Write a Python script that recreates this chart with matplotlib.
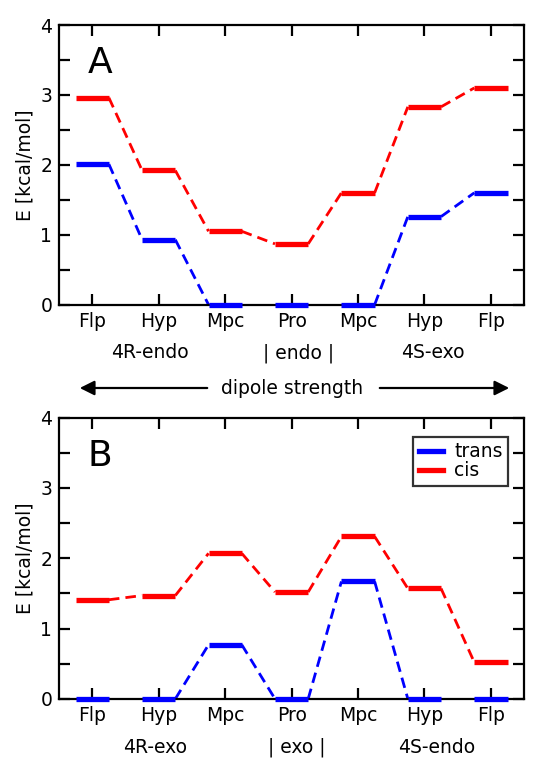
import numpy as np
import matplotlib
matplotlib.use('Agg')
import matplotlib.pyplot as plt
import matplotlib.ticker as mticker
from matplotlib.lines import Line2D
from matplotlib.patches import FancyArrowPatch

residues = ['Flp', 'Hyp', 'Mpc', 'Pro', 'Mpc', 'Hyp', 'Flp']

# panel A (endo)
trans_a = [2.01, 0.93, 0.0, 0.0, 0.0, 1.26, 1.60]
cis_a = [2.96, 1.92, 1.05, 0.87, 1.60, 2.83, 3.10]
groups_a = ['4R-endo', '| endo |', '4S-exo']
group_pos_a = [0.87, 3.1, 5.12]

# panel B (exo)
trans_b = [0.0, 0.0, 0.77, 0.0, 1.67, 0.0, 0.0]
cis_b = [1.41, 1.47, 2.07, 1.52, 2.31, 1.57, 0.52]
groups_b = ['4R-exo', '| exo |', '4S-endo']
group_pos_b = [0.94, 3.08, 5.19]

RED = '#ff0000'
BLUE = '#0000ff'
HALF = 0.25
FS = 13.5


def draw_levels(ax, values, color):
    x = np.arange(len(values))
    for xi, yi in zip(x, values):
        ax.plot([xi - HALF, xi + HALF], [yi, yi], color=color, lw=3.8,
                solid_capstyle='butt', zorder=3, clip_on=False)
    for i in range(len(values) - 1):
        ax.plot([x[i] + HALF, x[i + 1] - HALF], [values[i], values[i + 1]],
                color=color, lw=2.0, ls=(0, (3.8, 2.2)), zorder=2)


def style_axes(ax, letter, groups, group_pos):
    ax.set_xlim(-0.5, 6.5)
    ax.set_ylim(0, 4)
    ax.set_xticks(range(len(residues)))
    ax.set_xticklabels(residues, fontsize=FS)
    ax.yaxis.set_major_locator(mticker.MultipleLocator(1))
    ax.yaxis.set_minor_locator(mticker.MultipleLocator(0.5))
    ax.tick_params(axis='both', which='both', direction='in', length=8, width=1.6,
                   top=True, right=True, labelsize=FS)
    ax.tick_params(axis='x', which='minor', top=False, bottom=False)
    ax.tick_params(axis='x', pad=5)
    ax.tick_params(axis='y', pad=5)
    for sp in ax.spines.values():
        sp.set_linewidth(1.6)
    ax.set_ylabel('E [kcal/mol]', fontsize=FS, labelpad=4)
    ax.text(0.088, 0.864, letter, transform=ax.transAxes, fontsize=26, ha='center', va='center')
    for g, gx in zip(groups, group_pos):
        ax.text(gx, -0.172, g, transform=ax.get_xaxis_transform(), fontsize=FS,
                ha='center', va='center')


fig = plt.figure(figsize=(5.37, 7.58), dpi=100)
ax_a = fig.add_axes([0.110, 0.598, 0.866, 0.369])
ax_b = fig.add_axes([0.110, 0.078, 0.866, 0.371])

draw_levels(ax_a, cis_a, RED)
draw_levels(ax_a, trans_a, BLUE)
style_axes(ax_a, 'A', groups_a, group_pos_a)

draw_levels(ax_b, cis_b, RED)
draw_levels(ax_b, trans_b, BLUE)
style_axes(ax_b, 'B', groups_b, group_pos_b)

handles = [Line2D([], [], color=BLUE, lw=3.8), Line2D([], [], color=RED, lw=3.8)]
leg = ax_b.legend(handles, ['trans', 'cis'], loc='upper right', bbox_to_anchor=(0.966, 0.932),
                  fontsize=FS, frameon=True, fancybox=False, handlelength=1.3,
                  handletextpad=0.6, labelspacing=0.0, borderpad=0.3, borderaxespad=0)
leg.get_frame().set_edgecolor('black')
leg.get_frame().set_linewidth(1.6)

# dipole strength arrow between panels
W, H = 537, 758
y_arr = 1 - 388 / H
fig.text(0.5 * (212 + 372) / W, y_arr, 'dipole strength', fontsize=FS, ha='center', va='center')
arrow = dict(arrowstyle='-|>', color='black', lw=1.6, mutation_scale=22)
fig.add_artist(FancyArrowPatch((210 / W, y_arr), (77 / W, y_arr),
               transform=fig.transFigure, **arrow))
fig.add_artist(FancyArrowPatch((377 / W, y_arr), (512 / W, y_arr),
               transform=fig.transFigure, **arrow))

fig.savefig('out.png', dpi=100)
